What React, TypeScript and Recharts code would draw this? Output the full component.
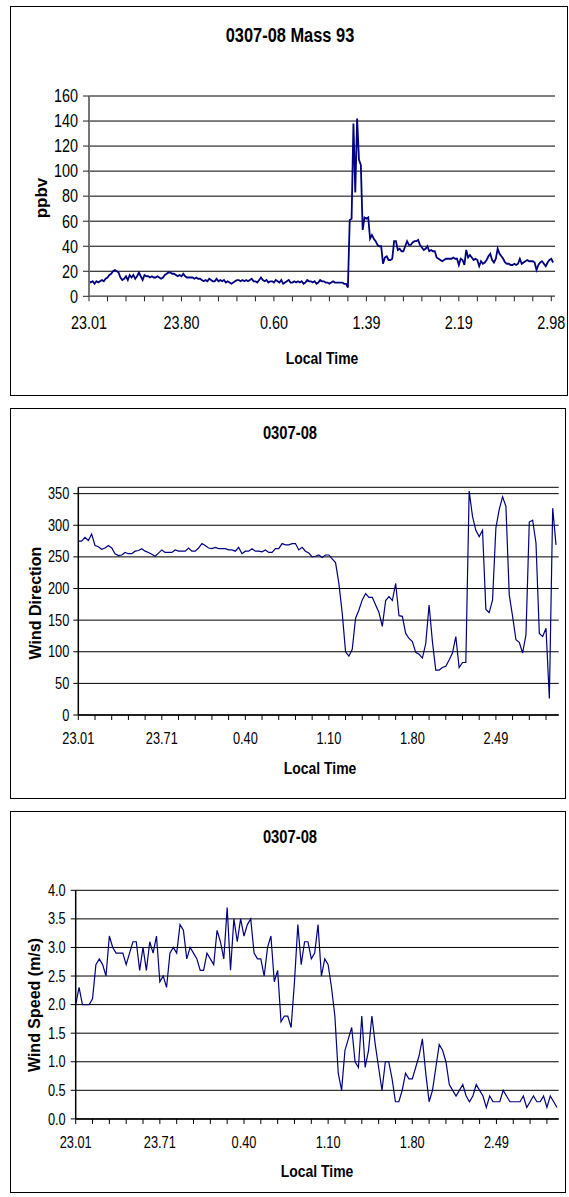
import { LineChart, Line, XAxis, YAxis, CartesianGrid } from 'recharts';

// 0307-08 night run: Mass 93 (about one sample per minute), then wind direction and speed
const massTimeLabels = ['23.01', '23.80', '0.60', '1.39', '2.19', '2.98'];
const windTimeLabels = ['23.01', '23.71', '0.40', '1.10', '1.80', '2.49'];

const massTicks = [0, 10, 20, 30, 40, 50, 60, 70, 80, 90, 100, 110, 120, 130, 140, 150, 160, 170, 180, 190, 200, 210, 220, 230, 240, 250];
const windTicks = [0, 5, 10, 15, 20, 25, 30, 35, 40, 45, 50, 55, 60, 65, 70, 75, 80, 85, 90, 95, 100, 105, 110, 115, 120, 125, 130, 135, 140];

const ppbvTicks = [0, 20, 40, 60, 80, 100, 120, 140, 160];
const directionTicks = [0, 50, 100, 150, 200, 250, 300, 350];
const speedTicks = [0, 0.5, 1, 1.5, 2, 2.5, 3, 3.5, 4];

const mass93Ppbv = [
  12, 11, 12, 10, 12, 11, 12, 13, 12, 14,
  15, 17, 18, 20, 21, 20, 19, 15, 13, 14,
  16, 13, 17, 15, 17, 14, 16, 19, 16, 13,
  17, 16, 16, 15, 16, 15, 15, 16, 15, 14,
  15, 17, 18, 19, 19, 18, 18, 17, 16, 17,
  16, 18, 16, 15, 15, 15, 15, 14, 15, 14,
  14, 13, 12, 13, 12, 14, 13, 12, 12, 14,
  12, 13, 12, 13, 11, 12, 11, 10, 11, 12,
  13, 13, 12, 13, 12, 13, 12, 13, 14, 12,
  12, 11, 13, 15, 13, 12, 13, 11, 12, 12,
  11, 13, 12, 11, 13, 10, 11, 12, 13, 11,
  11, 12, 11, 12, 11, 12, 10, 11, 13, 12,
  12, 11, 12, 10, 11, 13, 12, 12, 11, 11,
  10, 11, 12, 11, 11, 11, 11, 11, 10, 10,
  7, 61, 62, 138, 83, 142, 109, 105, 53, 63,
  62, 63, 46, 49, 46, 44, 41, 40, 40, 26,
  31, 32, 29, 29, 30, 44, 44, 37, 38, 36,
  36, 40, 44, 41, 41, 43, 44, 44, 45, 41,
  39, 37, 38, 40, 36, 37, 36, 36, 31, 30,
  29, 28, 29, 30, 30, 30, 30, 31, 30, 30,
  25, 30, 29, 25, 37, 31, 33, 31, 29, 30,
  29, 24, 28, 26, 27, 29, 32, 34, 29, 27,
  30, 38, 34, 32, 30, 27, 26, 26, 25, 25,
  26, 25, 26, 30, 26, 27, 28, 29, 28, 28,
  28, 27, 21, 25, 27, 28, 26, 24, 27, 29,
  30, 27,
];

const windDirection = [
  275, 275, 281, 276, 286, 268, 266, 262, 264, 268,
  264, 255, 252, 253, 257, 255, 255, 259, 260, 263,
  259, 257, 254, 251, 256, 261, 257, 257, 257, 261,
  259, 259, 259, 264, 259, 259, 264, 271, 268, 264,
  263, 265, 263, 263, 263, 261, 261, 259, 265, 255,
  259, 259, 263, 259, 259, 258, 261, 257, 257, 263,
  263, 271, 269, 269, 271, 271, 261, 265, 259, 256,
  250, 251, 253, 249, 253, 253, 247, 241, 208, 161,
  100, 93, 104, 153, 166, 182, 192, 186, 186, 174,
  162, 140, 181, 187, 181, 208, 157, 156, 129, 121,
  116, 99, 96, 90, 113, 174, 116, 71, 71, 75,
  77, 87, 98, 124, 75, 83, 83, 354, 314, 292,
  282, 292, 167, 162, 182, 296, 325, 345, 330, 190,
  156, 119, 115, 98, 127, 305, 308, 272, 129, 124,
  137, 26, 327, 269,
];

const windSpeed = [
  2.0, 2.3, 2.0, 2.0, 2.0, 2.1, 2.7, 2.8, 2.7, 2.5,
  3.2, 3.0, 2.9, 2.9, 2.9, 2.7, 2.9, 3.1, 3.1, 2.6,
  3.0, 2.6, 3.1, 2.9, 3.2, 2.4, 2.5, 2.3, 2.9, 3.0,
  2.9, 3.4, 3.3, 2.8, 3.0, 2.9, 2.8, 2.6, 2.6, 2.9,
  2.8, 2.7, 3.3, 3.1, 2.8, 3.7, 2.6, 3.5, 3.1, 3.5,
  3.2, 3.4, 3.5, 2.9, 2.8, 2.8, 2.5, 3.0, 3.2, 2.4,
  2.6, 1.7, 1.8, 1.8, 1.6, 2.4, 3.4, 2.7, 3.1, 3.1,
  2.8, 2.9, 3.4, 2.5, 2.8, 2.7, 2.3, 1.8, 0.8, 0.5,
  1.2, 1.4, 1.6, 1.0, 0.9, 1.8, 0.9, 1.2, 1.8, 1.3,
  0.9, 0.5, 1.0, 1.0, 0.7, 0.3, 0.3, 0.5, 0.8, 0.7,
  0.7, 0.9, 1.1, 1.4, 0.8, 0.3, 0.5, 0.9, 1.3, 1.2,
  1.0, 0.6, 0.5, 0.4, 0.5, 0.6, 0.4, 0.3, 0.4, 0.6,
  0.5, 0.4, 0.2, 0.4, 0.3, 0.3, 0.3, 0.5, 0.4, 0.3,
  0.3, 0.3, 0.3, 0.4, 0.2, 0.3, 0.4, 0.3, 0.3, 0.4,
  0.2, 0.4, 0.3, 0.2,
];

const massData = mass93Ppbv.map((v, i) => ({ idx: i, value: v }));
const directionData = windDirection.map((v, i) => ({ idx: i, value: v }));
const speedData = windSpeed.map((v, i) => ({ idx: i, value: v }));

const sans = '"Liberation Sans", Arial, Helvetica, sans-serif';
const navy = '#000080';

// Excel-style narrow tick text; only every `every`-th tick gets a time label
function TimeTick(props: any) {
  const { x, y, payload, labels, every, size } = props;
  const v = Math.round(payload.value);
  const text = v % every === 0 ? labels[v / every] ?? '' : '';
  return (
    <g transform={`translate(${x},${y})`}>
      <text transform="scale(0.8,1)" textAnchor="middle" dy="0.71em" fontSize={size} fontFamily={sans} fill="#000">
        {text}
      </text>
    </g>
  );
}

function ValueTick(props: any) {
  const { x, y, payload, digits, size } = props;
  return (
    <g transform={`translate(${x},${y})`}>
      <text transform="scale(0.8,1)" textAnchor="end" dy="0.35em" fontSize={size} fontFamily={sans} fill="#000">
        {Number(payload.value).toFixed(digits)}
      </text>
    </g>
  );
}

function Caption({ x, y, size, rotate, children }: any) {
  return (
    <div
      style={{
        position: 'absolute',
        left: x,
        top: y,
        transform: rotate ? 'translate(-50%, -50%) rotate(-90deg)' : 'translate(-50%, -50%) scaleX(0.82)',
        fontFamily: sans,
        fontWeight: 'bold',
        fontSize: size,
        lineHeight: 1,
        whiteSpace: 'nowrap',
        color: '#000',
      }}
    >
      {children}
    </div>
  );
}

function Frame({ left, top, width, height }: any) {
  return (
    <div
      style={{
        position: 'absolute',
        left,
        top,
        width,
        height,
        border: '1.5px solid #000',
        boxSizing: 'border-box',
        background: '#fff',
      }}
    />
  );
}

export default function App() {
  return (
    <div style={{ position: 'absolute', left: 0, top: 0, width: 569, height: 1197, background: '#fff' }}>
      <Frame left={10} top={6} width={558} height={390} />
      <Frame left={10} top={408} width={556} height={391} />
      <Frame left={10} top={811} width={556} height={382} />

      {/* Mass 93 */}
      <div style={{ position: 'absolute', left: 0, top: 0 }}>
        <LineChart width={569} height={400} data={massData} margin={{ top: 96, right: 14, bottom: 63.7, left: 29 }}>
          <CartesianGrid vertical={false} stroke="#000" strokeWidth={1} />
          <XAxis
            dataKey="idx"
            type="number"
            domain={[0, 252]}
            ticks={massTicks}
            interval={0}
            height={40}
            tickSize={5}
            tickMargin={15}
            axisLine={{ stroke: '#666', strokeWidth: 1.5 }}
            tickLine={{ stroke: '#222' }}
            tick={(p: any) => <TimeTick {...p} labels={massTimeLabels} every={50} size={18} />}
          />
          <YAxis
            type="number"
            domain={[0, 160]}
            ticks={ppbvTicks}
            interval={0}
            width={60}
            tickSize={6}
            tickMargin={5}
            axisLine={{ stroke: '#777', strokeWidth: 2 }}
            tickLine={{ stroke: '#222' }}
            tick={(p: any) => <ValueTick {...p} digits={0} size={18} />}
          />
          <Line type="linear" dataKey="value" stroke={navy} strokeWidth={1.8} dot={false} isAnimationActive={false} />
        </LineChart>
      </div>

      {/* Wind direction */}
      <div style={{ position: 'absolute', left: 0, top: 400 }}>
        <LineChart width={569} height={405} data={directionData} margin={{ top: 87.3, right: 10.3, bottom: 50, left: 28.3 }}>
          <CartesianGrid vertical={false} stroke="#000" strokeWidth={1} />
          <XAxis
            dataKey="idx"
            type="number"
            domain={[0, 143.8]}
            ticks={windTicks}
            interval={0}
            height={40}
            tickSize={5}
            tickMargin={13}
            axisLine={{ stroke: '#000', strokeWidth: 1.5 }}
            tickLine={{ stroke: '#000' }}
            tick={(p: any) => <TimeTick {...p} labels={windTimeLabels} every={25} size={16} />}
          />
          <YAxis
            type="number"
            domain={[0, 360]}
            ticks={directionTicks}
            interval={0}
            width={50}
            tickSize={5}
            tickMargin={4}
            axisLine={{ stroke: '#000', strokeWidth: 1.5 }}
            tickLine={{ stroke: '#000' }}
            tick={(p: any) => <ValueTick {...p} digits={0} size={16} />}
          />
          <Line type="linear" dataKey="value" stroke={navy} strokeWidth={1.2} dot={false} isAnimationActive={false} />
        </LineChart>
      </div>

      {/* Wind speed */}
      <div style={{ position: 'absolute', left: 0, top: 805 }}>
        <LineChart width={569} height={392} data={speedData} margin={{ top: 85.3, right: 10.3, bottom: 38.1, left: 25.7 }}>
          <CartesianGrid vertical={false} stroke="#000" strokeWidth={1} />
          <XAxis
            dataKey="idx"
            type="number"
            domain={[0, 143.5]}
            ticks={windTicks}
            interval={0}
            height={40}
            tickSize={5}
            tickMargin={13}
            axisLine={{ stroke: '#000', strokeWidth: 1.5 }}
            tickLine={{ stroke: '#000' }}
            tick={(p: any) => <TimeTick {...p} labels={windTimeLabels} every={25} size={16} />}
          />
          <YAxis
            type="number"
            domain={[0, 4]}
            ticks={speedTicks}
            interval={0}
            width={50}
            tickSize={5}
            tickMargin={5}
            axisLine={{ stroke: '#000', strokeWidth: 1.5 }}
            tickLine={{ stroke: '#000' }}
            tick={(p: any) => <ValueTick {...p} digits={1} size={16} />}
          />
          <Line type="linear" dataKey="value" stroke={navy} strokeWidth={1.2} dot={false} isAnimationActive={false} />
        </LineChart>
      </div>

      <Caption x={290} y={34.5} size={20}>0307-08 Mass 93</Caption>
      <Caption x={41} y={198} size={17} rotate>ppbv</Caption>
      <Caption x={322} y={358} size={17}>Local Time</Caption>

      <Caption x={290} y={433.3} size={18}>0307-08</Caption>
      <Caption x={35.5} y={603} size={16} rotate>Wind Direction</Caption>
      <Caption x={319.5} y={767.5} size={17}>Local Time</Caption>

      <Caption x={290} y={836.7} size={18}>0307-08</Caption>
      <Caption x={35} y={1005} size={16} rotate>Wind Speed (m/s)</Caption>
      <Caption x={317.4} y={1171} size={17}>Local Time</Caption>
    </div>
  );
}
